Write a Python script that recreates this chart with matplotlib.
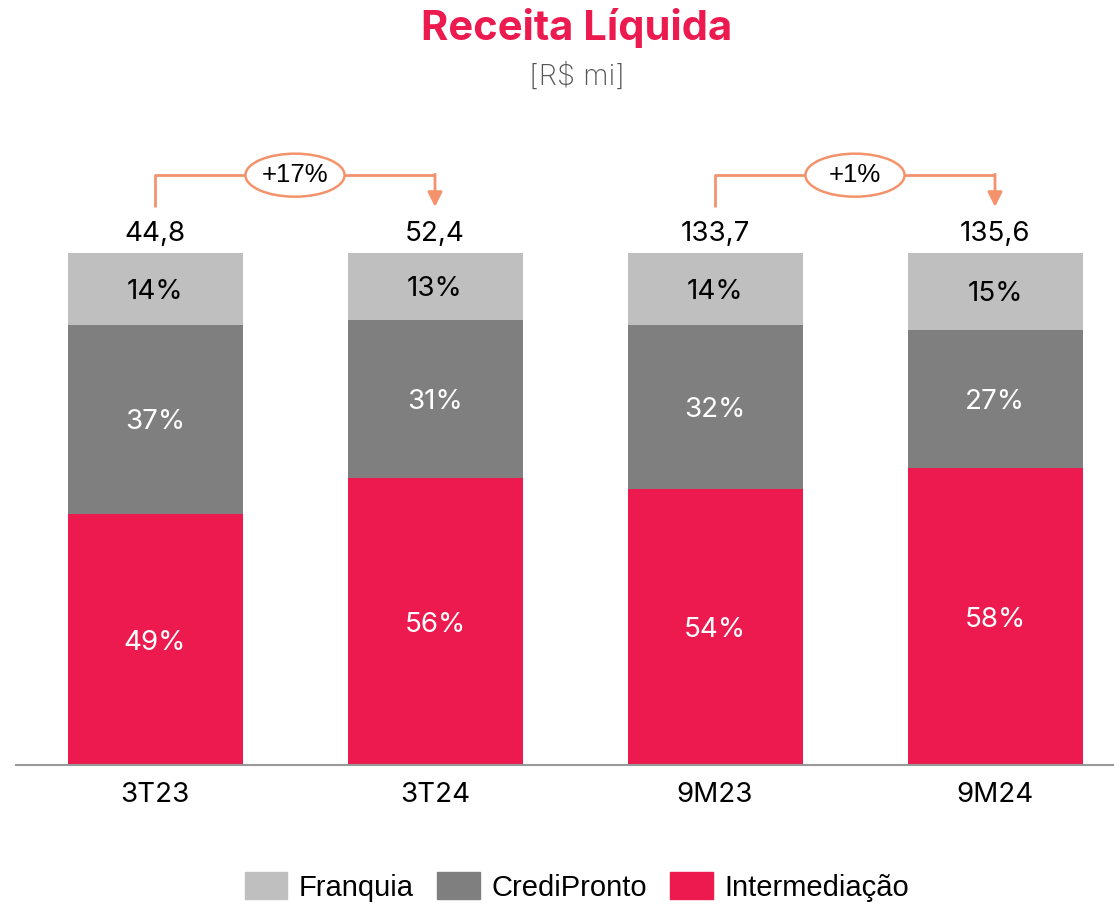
import matplotlib.pyplot as plt
from matplotlib.patches import Ellipse, Patch

categories = ['3T23', '3T24', '9M23', '9M24']
totals = ['44,8', '52,4', '133,7', '135,6']
intermediacao = [49, 56, 54, 58]
credipronto = [37, 31, 32, 27]
franquia = [14, 13, 14, 15]
growth = [('+17%', 0, 1), ('+1%', 2, 3)]

RED = '#EC1A4E'
DARK = '#7F7F7F'
LIGHT = '#BFBFBF'
ORANGE = '#F4936B'

plt.rcParams['font.family'] = ['Inter', 'DejaVu Sans']

fig = plt.figure(figsize=(11.14, 9.06), dpi=100)
# axes from x=16px to right edge, baseline at 765px, top at 100px
ax = fig.add_axes([16 / 1114, (906 - 765) / 906, 1 - 16 / 1114, 665 / 906])
x = list(range(len(categories)))
w = 0.625
b1 = [a + b for a, b in zip(intermediacao, credipronto)]
ax.bar(x, intermediacao, w, color=RED)
ax.bar(x, credipronto, w, bottom=intermediacao, color=DARK)
ax.bar(x, franquia, w, bottom=b1, color=LIGHT)

fs = 20
for i in x:
    ax.text(i, intermediacao[i] / 2, f'{intermediacao[i]}%', ha='center',
            va='center_baseline', color='white', fontsize=fs)
    ax.text(i, intermediacao[i] + credipronto[i] / 2, f'{credipronto[i]}%', ha='center',
            va='center_baseline', color='white', fontsize=fs)
    ax.text(i, b1[i] + franquia[i] / 2, f'{franquia[i]}%', ha='center',
            va='center_baseline', color='black', fontsize=fs)
    ax.text(i, 104.2, totals[i], ha='center', va='center_baseline', color='black',
            fontsize=fs)

# growth brackets
for label, a, b in growth:
    y_line = 115.2
    ax.plot([a, a, b], [109.0, y_line, y_line], color=ORANGE, lw=2, solid_capstyle='butt')
    ax.annotate('', xy=(b, 109.0), xytext=(b, y_line + 0.2),
                arrowprops=dict(arrowstyle='-|>', color=ORANGE, lw=2,
                                mutation_scale=22, shrinkA=0, shrinkB=0))
    mid = (a + b) / 2
    ax.add_patch(Ellipse((mid, y_line), 0.354, 8.4, facecolor='white',
                         edgecolor=ORANGE, lw=1.8, zorder=3))
    ax.text(mid, y_line, label, ha='center', va='center', fontsize=18.5,
            family='Liberation Sans', zorder=4)

ax.set_xlim(-139 / 280, (1114 - 155) / 280)
ax.set_ylim(0, 665 / 512 * 100)
ax.set_xticks(x)
ax.set_xticklabels(categories, fontsize=fs)
ax.tick_params(axis='x', length=0, pad=12)
ax.set_yticks([])
for s in ['top', 'right', 'left']:
    ax.spines[s].set_visible(False)
ax.spines['bottom'].set_color('#999999')
ax.spines['bottom'].set_linewidth(1.5)

fig.text(0.518, 1 - 28 / 906, 'Receita Líquida', ha='center', va='center',
         fontsize=30, fontweight='bold', color=RED)
fig.text(0.518, 1 - 77 / 906, '[R$ mi]', ha='center', va='center',
         fontsize=21, color='#555555', fontweight='light')

handles = [Patch(color=LIGHT, label='Franquia'), Patch(color=DARK, label='CrediPronto'),
           Patch(color=RED, label='Intermediação')]
fig.legend(handles=handles, loc='center', bbox_to_anchor=(0.518, 1 - 887 / 906), ncol=3,
           frameon=False, prop={'family': 'Liberation Sans', 'size': 21},
           handlelength=1.45, handleheight=1.0, handletextpad=0.4, columnspacing=0.8)

fig.savefig('out.png', dpi=100)
